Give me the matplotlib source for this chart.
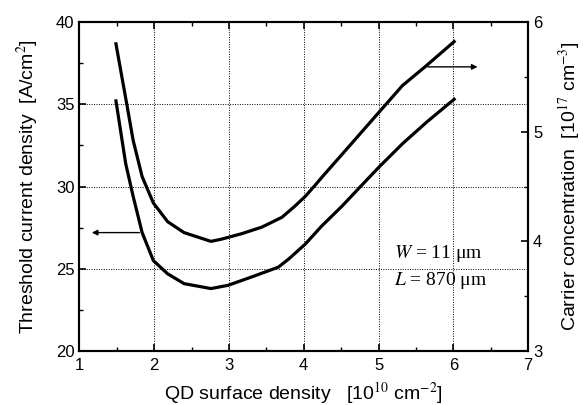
import matplotlib

matplotlib.use("Agg")
import matplotlib.pyplot as plt
from matplotlib.ticker import MultipleLocator

plt.rcParams["font.family"] = ["Liberation Sans", "DejaVu Sans"]
plt.rcParams["mathtext.fontset"] = "stix"

# QD surface density [1e10 cm^-2] vs carrier concentration [1e17 cm^-3] (right axis)
dens_carrier = [1.49, 1.64, 1.72, 1.84, 1.99, 2.18, 2.40, 2.76, 2.90, 3.17, 3.44,
                3.71, 3.88, 4.02, 4.15, 4.25, 4.65, 4.92, 5.01, 5.32, 5.62, 6.01]
carrier = [5.80, 5.23, 4.92, 4.59, 4.35, 4.18, 4.08, 4.00, 4.02, 4.07, 4.13,
           4.22, 4.32, 4.41, 4.51, 4.59, 4.90, 5.11, 5.18, 5.42, 5.59, 5.82]

# QD surface density vs threshold current density [A/cm^2] (left axis)
dens_thresh = [1.49, 1.62, 1.72, 1.84, 1.99, 2.18, 2.40, 2.76, 2.99, 3.30, 3.66,
               3.80, 4.02, 4.24, 4.51, 4.78, 5.01, 5.32, 5.64, 6.01]
thresh = [35.2, 31.4, 29.4, 27.2, 25.5, 24.7, 24.1, 23.8, 24.0, 24.5, 25.1,
          25.6, 26.5, 27.6, 28.8, 30.1, 31.2, 32.6, 33.9, 35.3]

fig = plt.figure(figsize=(5.83, 4.05), dpi=100)
ax = fig.add_axes([0.136, 0.133, 0.770, 0.813])
ax2 = ax.twinx()

ax.plot(dens_thresh, thresh, color="black", lw=2.3)
ax2.plot(dens_carrier, carrier, color="black", lw=2.3)

ax.set_xlim(1, 7)
ax.set_ylim(20, 40)
ax2.set_ylim(3, 6)

ax.xaxis.set_major_locator(MultipleLocator(1))
ax.xaxis.set_minor_locator(MultipleLocator(0.5))
ax.yaxis.set_major_locator(MultipleLocator(5))
ax.yaxis.set_minor_locator(MultipleLocator(2.5))
ax2.yaxis.set_major_locator(MultipleLocator(1))
ax2.yaxis.set_minor_locator(MultipleLocator(0.5))

ax.grid(True, which="major", color="black", linestyle=(0, (1, 1.5)), lw=0.7)
ax.tick_params(axis="x", which="both", direction="in", top=True, labelsize=12, pad=5)
ax.tick_params(axis="y", which="both", direction="in", right=False, labelsize=12)
ax2.tick_params(axis="y", which="both", direction="in", labelsize=12)
for a in (ax, ax2):
    a.tick_params(which="major", length=5, width=1.2)
    a.tick_params(which="minor", length=3, width=1.0)
    for s in a.spines.values():
        s.set_linewidth(1.5)

ax.set_xlabel(r"QD surface density   [10$^{10}$ cm$^{-2}$]", fontsize=14, labelpad=5)
ax.set_ylabel(r"Threshold current density  [A/cm$^{2}$]", fontsize=14, labelpad=11)
ax2.set_ylabel(r"Carrier concentration  [10$^{17}$ cm$^{-3}$]", fontsize=14, labelpad=10)

# arrows pointing to the matching axis
ax.annotate("", xy=(1.13, 27.2), xytext=(1.84, 27.2),
            arrowprops=dict(arrowstyle="-|>", color="black", lw=1.0, mutation_scale=8))
ax2.annotate("", xy=(6.36, 5.59), xytext=(5.62, 5.59),
             arrowprops=dict(arrowstyle="-|>", color="black", lw=1.0, mutation_scale=8))

ax.text(5.2, 25.96, r"$W$ = 11 μm", family="Liberation Serif", fontsize=14, va="center")
ax.text(5.2, 24.3, r"$L$ = 870 μm", family="Liberation Serif", fontsize=14, va="center")

fig.savefig("out.png", dpi=100)
